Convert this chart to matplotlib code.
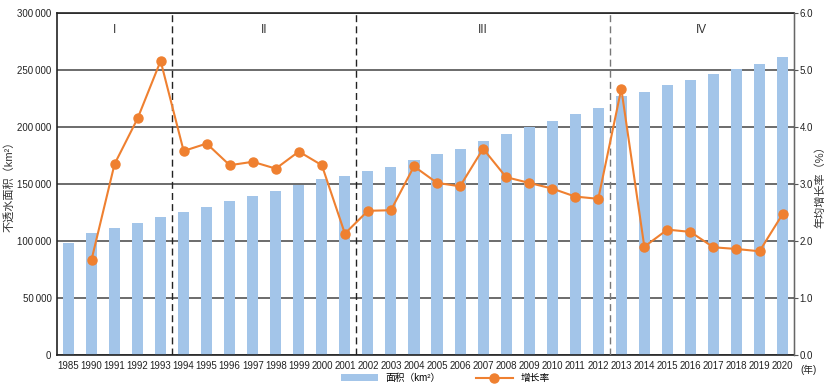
import numpy as np
import matplotlib.pyplot as plt
from matplotlib.ticker import FuncFormatter

plt.rcParams['font.family'] = ['Liberation Sans', 'Noto Sans CJK SC']

years = ['1985'] + [str(y) for y in range(1990, 2021)]
area = [98500, 107000, 111000, 115500, 121000, 125400, 130000, 135000,
        139500, 144000, 149000, 154000, 157000, 161400, 165000, 171000,
        176000, 181000, 188000, 194000, 200000, 205500, 211000, 216700,
        227000, 231000, 236500, 241500, 246500, 251000, 255000, 261500]
# growth rate, no value for 1985
rate = [np.nan, 1.67, 3.35, 4.15, 5.16, 3.58, 3.71, 3.33, 3.39, 3.27,
        3.57, 3.33, 2.13, 2.53, 2.54, 3.31, 3.02, 2.96, 3.62, 3.12,
        3.02, 2.92, 2.78, 2.74, 4.67, 1.90, 2.20, 2.16, 1.89, 1.86,
        1.82, 2.47]
stage_names = ['I', 'II', 'III', 'IV']
stage_breaks = [4.5, 12.5, 23.5]

bar_color = '#a3c5e9'
line_color = '#ef8030'

fig = plt.figure(figsize=(8.28, 3.87), dpi=100)
ax = fig.add_axes([0.0688, 0.0827, 0.8902, 0.8836])
ax2 = ax.twinx()

x = np.arange(len(years))
ax.bar(x, area, width=0.48, color=bar_color, label='面积（km²）', zorder=2)
ax2.plot(x, rate, color=line_color, lw=1.5, marker='o', ms=6.5,
         label='增长率', zorder=3)

ax.set_xlim(-0.5, len(years) - 0.5)
ax.set_ylim(0, 300000)
ax.set_yticks(np.arange(0, 300001, 50000))
ax.yaxis.set_major_formatter(FuncFormatter(
    lambda v, p: '0' if v == 0 else f'{int(v):,}'.replace(',', '\u2009')))
ax.grid(axis='y', color='#444444', lw=1.1, zorder=1)
ax.set_axisbelow(True)
ax2.set_ylim(0, 6)
ax2.set_yticks(np.arange(0, 6.01, 1.0))
ax2.yaxis.set_major_formatter(FuncFormatter(lambda v, p: f'{v:.1f}'))

ax.set_xticks(x)
ax.set_xticklabels(years)
ax.tick_params(axis='x', length=0, pad=4, labelsize=7, colors='#222222')
ax.tick_params(axis='y', length=0, pad=4, labelsize=7, colors='#222222')
ax2.tick_params(axis='y', length=3, width=0.8, pad=1, labelsize=7,
                colors='#222222', color='#555555')

for s in ['left', 'bottom', 'top']:
    ax.spines[s].set_color('#222222')
    ax.spines[s].set_linewidth(1.2)
ax2.spines['right'].set_color('#666666')
ax2.spines['right'].set_linewidth(1.0)
for s in ['left', 'bottom', 'top']:
    ax2.spines[s].set_visible(False)

# stage separators and labels
sep_colors = ['#222222', '#222222', '#777777']
for b, c in zip(stage_breaks, sep_colors):
    ax.axvline(b, color=c, lw=1.0, ls=(0, (5, 3)), zorder=4)
edges = [-0.5] + stage_breaks + [len(years) - 0.5]
for i, name in enumerate(stage_names):
    ax.text((edges[i] + edges[i + 1]) / 2, 285000, name, ha='center',
            va='center', fontsize=8.5, color='#333333')

ax.set_ylabel('不透水面积（km²）', fontsize=8, color='#333333', labelpad=2)
ax2.set_ylabel('年均增长率（%）', fontsize=8, color='#333333', labelpad=1)
fig.text(0.976, 0.045, '(年)', fontsize=7, ha='center', va='center',
         color='#222222')

h1, l1 = ax.get_legend_handles_labels()
h2, l2 = ax2.get_legend_handles_labels()
fig.legend(h1 + h2, l1 + l2, loc='center', bbox_to_anchor=(0.538, 0.023),
           ncol=2, frameon=False, fontsize=7, handlelength=3.8,
           columnspacing=3.6, handletextpad=0.8)

fig.savefig('out.png', dpi=100)
